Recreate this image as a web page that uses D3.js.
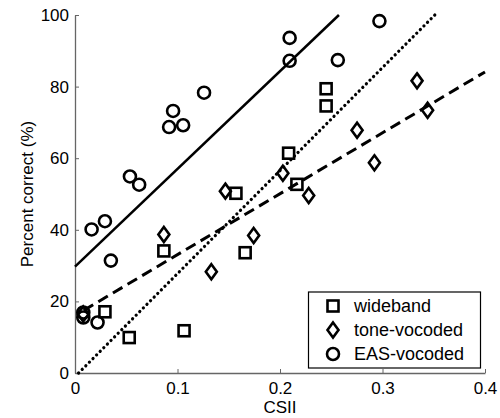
<!DOCTYPE html>
<html>
<head>
<meta charset="utf-8">
<script src="https://cdn.jsdelivr.net/npm/d3@7"></script>
<style>
  body { margin: 0; background: #fff; }
  text { font-family: "Liberation Sans", Arial, sans-serif; }
</style>
</head>
<body>
<div id="chart"></div>
<script>
// wideband (squares)
const widebandX = [0.0292, 0.0529, 0.0867, 0.1064, 0.157, 0.166, 0.2084, 0.2165, 0.245, 0.245];
const widebandY = [17.1, 9.9, 34.1, 11.8, 50.2, 33.6, 61.4, 52.7, 79.4, 74.6];
// tone-vocoded (diamonds)
const toneX = [0.008, 0.0867, 0.133, 0.1467, 0.1743, 0.2028, 0.228, 0.2752, 0.2921, 0.3337, 0.344];
const toneY = [16.5, 38.7, 28.3, 50.8, 38.4, 55.8, 49.6, 67.8, 58.7, 81.6, 73.4];
// EAS-vocoded (circles)
const easX = [0.0081, 0.0081, 0.0162, 0.022, 0.0292, 0.035, 0.0536, 0.0626, 0.0918, 0.0957, 0.1055, 0.1259, 0.2094, 0.2094, 0.2564, 0.297];
const easY = [16.9, 15.5, 40.1, 14.1, 42.4, 31.4, 54.9, 52.6, 68.7, 73.2, 69.2, 78.3, 93.6, 87.2, 87.4, 98.3];
// regression lines: [x0, y0, x1, y1]
const fitEas = [0, 29.7, 0.2575, 100];
const fitWide = [0.0035, 0, 0.351, 100];
const fitTone = [0.0085, 17.5, 0.4, 84.1];

const xTicks = [0, 0.1, 0.2, 0.3, 0.4];
const yTicks = [0, 20, 40, 60, 80, 100];
const legendLabels = ["wideband", "tone-vocoded", "EAS-vocoded"];

const width = 500, height = 418;
const margin = { top: 15, right: 15, bottom: 45, left: 75 };

const x = d3.scaleLinear().domain([0, 0.4]).range([margin.left, width - margin.right]);
const y = d3.scaleLinear().domain([0, 100]).range([height - margin.bottom, margin.top]);

const svg = d3.select("#chart").append("svg")
  .attr("width", width)
  .attr("height", height);

// axes, ticks inward like matlab
const xAxis = svg.append("g")
  .attr("transform", `translate(0,${y(0)})`)
  .call(d3.axisBottom(x).tickValues(xTicks).tickSizeInner(-4).tickSizeOuter(0)
    .tickPadding(9).tickFormat(d => d === 0 ? "0" : d3.format(".1f")(d)));
const yAxis = svg.append("g")
  .attr("transform", `translate(${x(0)},0)`)
  .call(d3.axisLeft(y).tickValues(yTicks).tickSizeInner(-4).tickSizeOuter(0).tickPadding(6));

[xAxis, yAxis].forEach(g => {
  g.select(".domain").attr("stroke", "#666").attr("stroke-width", 1.3);
  g.selectAll(".tick line").attr("stroke", "#666");
  g.selectAll(".tick text").attr("fill", "#000").style("font-size", "17px");
});

svg.append("text")
  .attr("x", x(0.2)).attr("y", 413)
  .attr("text-anchor", "middle")
  .style("font-size", "17px")
  .text("CSII");

svg.append("text")
  .attr("transform", `translate(33,${y(50)}) rotate(-90)`)
  .attr("text-anchor", "middle")
  .style("font-size", "17px")
  .text("Percent correct (%)");

// fit lines
const lines = [
  { f: fitEas, dash: null, w: 2.5 },
  { f: fitWide, dash: "0.1 5", w: 3.2, cap: "round" },
  { f: fitTone, dash: "11 6", w: 3 }
];
lines.forEach(l => {
  svg.append("line")
    .attr("x1", x(l.f[0])).attr("y1", y(l.f[1]))
    .attr("x2", x(l.f[2])).attr("y2", y(l.f[3]))
    .attr("stroke", "#000")
    .attr("stroke-width", l.w)
    .attr("stroke-dasharray", l.dash)
    .attr("stroke-linecap", l.cap || "butt");
});

// markers
function square(g, cx, cy) {
  g.append("rect").attr("x", cx - 5.5).attr("y", cy - 5.5)
    .attr("width", 11).attr("height", 11)
    .attr("fill", "none").attr("stroke", "#000").attr("stroke-width", 2.6);
}
function diamond(g, cx, cy) {
  g.append("path")
    .attr("d", `M${cx},${cy - 7.5}L${cx + 5.5},${cy}L${cx},${cy + 7.5}L${cx - 5.5},${cy}Z`)
    .attr("fill", "none").attr("stroke", "#000").attr("stroke-width", 2.6);
}
function circle(g, cx, cy) {
  g.append("circle").attr("cx", cx).attr("cy", cy).attr("r", 6)
    .attr("fill", "none").attr("stroke", "#000").attr("stroke-width", 2.6);
}

const pts = svg.append("g");
widebandX.forEach((v, i) => square(pts, x(v), y(widebandY[i])));
toneX.forEach((v, i) => diamond(pts, x(v), y(toneY[i])));
easX.forEach((v, i) => circle(pts, x(v), y(easY[i])));

// legend
const lg = svg.append("g");
lg.append("rect")
  .attr("x", 308.5).attr("y", 292)
  .attr("width", 172).attr("height", 76)
  .attr("fill", "#fff").attr("stroke", "#000").attr("stroke-width", 1.2);
const markerFns = [square, diamond, circle];
legendLabels.forEach((t, i) => {
  const ly = 306 + i * 24;
  markerFns[i](lg, 333, ly);
  lg.append("text")
    .attr("x", 354).attr("y", ly)
    .attr("dy", "0.35em")
    .style("font-size", "18px")
    .text(t);
});
</script>
</body>
</html>
